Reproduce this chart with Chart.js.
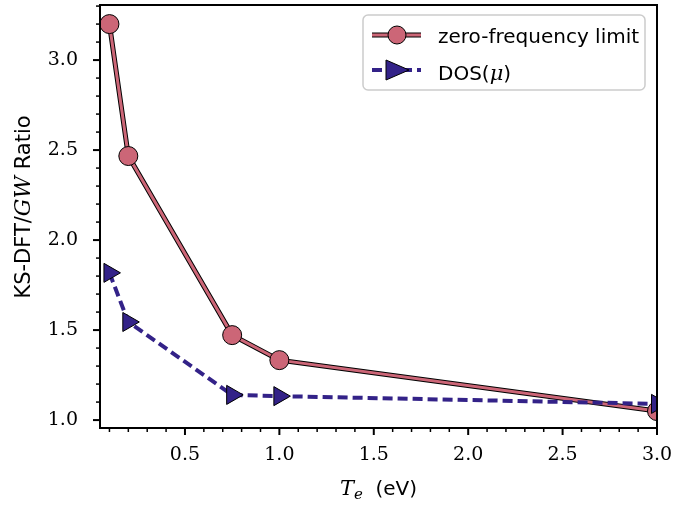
<!DOCTYPE html>
<html>
<head>
<meta charset="utf-8">
<script src="https://cdn.jsdelivr.net/npm/chart.js@4"></script>
<style>
  html, body { margin: 0; padding: 0; background: #fff; }
  #wrap { width: 675px; height: 506px; }
</style>
</head>
<body>
<div id="wrap"><canvas id="ratio-chart"></canvas></div>
<script>
// data
const temps = [0.1, 0.2, 0.75, 1.0, 3.0];
const zeroFreq = [3.2, 2.467, 1.472, 1.333, 1.05];
const dosMu = [1.818, 1.545, 1.14, 1.133, 1.09];
const xTicks = [0.5, 1.0, 1.5, 2.0, 2.5, 3.0];
const yTicks = [1.0, 1.5, 2.0, 2.5, 3.0];
const seriesNames = ["zero-frequency limit", "DOS(\u03bc)"];

const RED = "#cc6677";
const BLUE = "#332288";
const SANS = "20px 'DejaVu Sans'";
const ITAL = "italic 21px 'DejaVu Serif'";

const toPoints = (ys) => temps.map((t, i) => ({ x: t, y: ys[i] }));

// draw text made of [text, font, dy] pieces in a row
function drawParts(c, parts, x, y, align) {
  let total = 0;
  parts.forEach((p) => { c.font = p[1]; total += c.measureText(p[0]).width; });
  let off = align === "center" ? x - total / 2 : x;
  c.textAlign = "left";
  parts.forEach((p) => {
    c.font = p[1];
    c.fillText(p[0], off, y + (p[2] || 0));
    off += c.measureText(p[0]).width;
  });
}

// axis box, minor/major ticks, axis titles, legend
const decorPlugin = {
  id: "decor",
  afterDraw(chart) {
    const c = chart.ctx;
    const a = chart.chartArea;
    const xs = chart.scales.x;
    const ys = chart.scales.y;
    c.save();
    c.strokeStyle = "#000";

    const tick = (x1, y1, x2, y2, w) => {
      c.lineWidth = w;
      c.beginPath();
      c.moveTo(x1, y1);
      c.lineTo(x2, y2);
      c.stroke();
    };
    for (let i = 1; i <= 30; i++) {
      const v = i / 10;
      if (v < xs.min || v > xs.max) continue;
      const px = xs.getPixelForValue(v);
      const major = i % 5 === 0;
      tick(px, a.bottom, px, a.bottom + (major ? 7 : 4), major ? 2 : 1.5);
    }
    for (let i = 9; i <= 33; i++) {
      const v = i / 10;
      if (v < ys.min || v > ys.max) continue;
      const py = ys.getPixelForValue(v);
      const major = i % 5 === 0;
      tick(a.left, py, a.left - (major ? 7 : 4), py, major ? 2 : 1.5);
    }

    // frame
    c.lineWidth = 2;
    c.strokeRect(a.left, a.top, a.right - a.left, a.bottom - a.top);

    // axis titles
    c.fillStyle = "#000";
    c.textBaseline = "alphabetic";
    c.save();
    c.translate(30, 207);
    c.rotate(-Math.PI / 2);
    drawParts(c, [["KS-DFT/", "21px 'DejaVu Sans'"], ["GW", "italic 22px 'DejaVu Serif'"],
      [" Ratio", "21px 'DejaVu Sans'"]], 0, 0, "center");
    c.restore();
    drawParts(c, [["T", ITAL], ["e", "italic 15px 'DejaVu Serif'", 4], ["  (eV)", SANS]],
      (a.left + a.right) / 2, 495, "center");

    // legend
    const lx = 363, ly = 15, lw = 282, lh = 75;
    c.beginPath();
    c.roundRect(lx, ly, lw, lh, 5);
    c.fillStyle = "rgba(255,255,255,0.85)";
    c.fill();
    c.lineWidth = 1.5;
    c.strokeStyle = "#cccccc";
    c.stroke();

    let ey = 35;
    c.strokeStyle = "#000";
    c.lineWidth = 5;
    c.beginPath(); c.moveTo(372, ey); c.lineTo(421, ey); c.stroke();
    c.strokeStyle = RED;
    c.lineWidth = 3;
    c.beginPath(); c.moveTo(372, ey); c.lineTo(421, ey); c.stroke();
    c.beginPath();
    c.arc(397, ey, 9, 0, Math.PI * 2);
    c.fillStyle = RED; c.fill();
    c.strokeStyle = "#000"; c.lineWidth = 1; c.stroke();

    ey = 70;
    c.strokeStyle = BLUE;
    c.lineWidth = 4;
    c.setLineDash([10, 5]);
    c.beginPath(); c.moveTo(372, ey); c.lineTo(421, ey); c.stroke();
    c.setLineDash([]);
    c.beginPath();
    c.moveTo(409, ey);
    c.lineTo(386, ey - 10);
    c.lineTo(386, ey + 10);
    c.closePath();
    c.fillStyle = BLUE; c.fill();
    c.strokeStyle = "#000"; c.lineWidth = 1; c.stroke();

    c.fillStyle = "#000";
    drawParts(c, [[seriesNames[0], SANS]], 438, 43, "left");
    drawParts(c, [["DOS(", SANS], ["\u03bc", ITAL], [")", SANS]], 438, 80, "left");
    c.restore();
  },
};

// keep Chart.js from adding label overflow padding around the plot
const noPad = (s) => {
  s.paddingTop = 0;
  s.paddingBottom = 0;
  s.paddingLeft = 0;
  s.paddingRight = 0;
};

const ctx = document.getElementById("ratio-chart");

new Chart(ctx, {
  type: "line",
  data: {
    datasets: [
      {
        label: seriesNames[1],
        data: toPoints(dosMu),
        borderColor: BLUE,
        borderWidth: 4,
        borderDash: [10, 5],
        pointStyle: "triangle",
        pointRotation: 90,
        pointRadius: 11,
        pointBackgroundColor: BLUE,
        pointBorderColor: "#000",
        pointBorderWidth: 1,
        order: 0,
      },
      {
        label: seriesNames[0],
        data: toPoints(zeroFreq),
        borderColor: RED,
        borderWidth: 3,
        pointStyle: "circle",
        pointRadius: 9.5,
        pointBackgroundColor: RED,
        pointBorderColor: "#000",
        pointBorderWidth: 1,
        order: 1,
      },
      {
        // dark outline under the red line
        label: "outline",
        data: toPoints(zeroFreq),
        borderColor: "#000",
        borderWidth: 5,
        pointRadius: 0,
        order: 2,
      },
    ],
  },
  options: {
    responsive: true,
    maintainAspectRatio: false,
    animation: false,
    events: [],
    layout: { autoPadding: false, padding: { top: 5, right: 18, left: 0, bottom: 0 } },
    plugins: {
      legend: { display: false },
      tooltip: { enabled: false },
    },
    scales: {
      x: {
        type: "linear",
        min: 0.05,
        max: 3.0,
        afterBuildTicks: (s) => { s.ticks = xTicks.map((v) => ({ value: v })); },
        afterFit: (s) => { s.height = 78; noPad(s); },
        grid: { display: false, drawTicks: false },
        border: { display: false },
        ticks: {
          padding: 16,
          color: "#000",
          maxRotation: 0,
          font: { family: "DejaVu Serif", size: 19 },
          callback: (v) => Number(v).toFixed(1),
        },
      },
      y: {
        type: "linear",
        min: 0.956,
        max: 3.306,
        afterBuildTicks: (s) => { s.ticks = yTicks.map((v) => ({ value: v })); },
        afterFit: (s) => { s.width = 100; noPad(s); },
        grid: { display: false, drawTicks: false },
        border: { display: false },
        ticks: {
          padding: 22,
          color: "#000",
          font: { family: "DejaVu Serif", size: 19 },
          callback: (v) => Number(v).toFixed(1),
        },
      },
    },
  },
  plugins: [decorPlugin],
});
</script>
</body>
</html>
